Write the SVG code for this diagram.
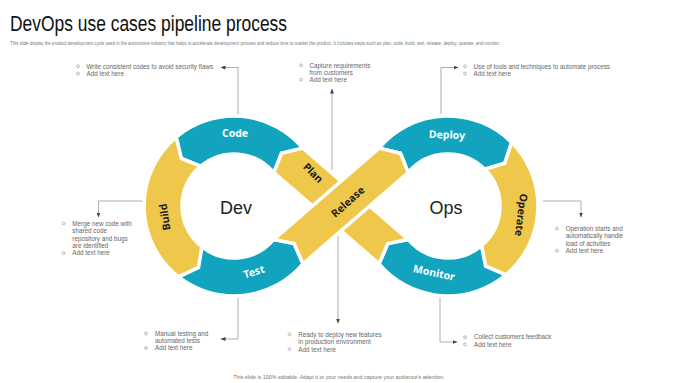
<svg xmlns="http://www.w3.org/2000/svg" width="680" height="383" viewBox="0 0 680 383">
<style>
.teal{fill:#12a3be;stroke:#fff;stroke-width:3.5;stroke-linejoin:miter}
.yel{fill:#efc84b;stroke:#fff;stroke-width:3.5;stroke-linejoin:miter}
.lbw{font-family:"Noto Sans",sans-serif;font-weight:700;font-size:10.5px;fill:#fff;text-anchor:middle}
.lbd{font-family:"Noto Sans",sans-serif;font-weight:700;font-size:10.5px;fill:#222;text-anchor:middle}
.big{font-family:"Liberation Sans",Arial,sans-serif;font-size:18px;fill:#222;text-anchor:middle}
.note{font-family:"Liberation Sans",Arial,sans-serif;font-size:6.3px;fill:#666}
.bul{fill:none;stroke:#888;stroke-width:0.6}
.ln{fill:none;stroke:#8a8a8a;stroke-width:0.7}
</style>
<defs>
<marker id="ah" markerUnits="userSpaceOnUse" markerWidth="5" markerHeight="4" refX="4.5" refY="2" orient="auto">
<path d="M0,0 L5,2 L0,4 Z" fill="#444"/>
</marker>
</defs>
<rect width="680" height="383" fill="#fff"/>
<text x="10" y="31" font-family="Liberation Sans, Arial, sans-serif" font-size="22" fill="#111" textLength="277" lengthAdjust="spacingAndGlyphs">DevOps use cases pipeline process</text>
<text x="10" y="45" font-family="Liberation Sans, Arial, sans-serif" font-size="5.4" fill="#777" textLength="490" lengthAdjust="spacingAndGlyphs">This slide display the product development  cycle used in the automotive industry that helps to accelerate development process and reduce time to market the product. It includes steps such as plan,  code, build,  test, release, deploy,  operate, and monitor.</text>

<g id="connectors">
<polyline class="ln" points="238,115 238,67.5 221,67.5" marker-end="url(#ah)"/>
<polyline class="ln" points="441,114 441,67.5 458,67.5" marker-end="url(#ah)"/>
<polyline class="ln" points="332,170 332,89" marker-end="url(#ah)"/>
<polyline class="ln" points="143,201 98.5,201 98.5,217" marker-end="url(#ah)"/>
<polyline class="ln" points="543,201 581,201 581,217" marker-end="url(#ah)"/>
<polyline class="ln" points="238,296 238,339 221,339" marker-end="url(#ah)"/>
<polyline class="ln" points="338,225 338,323" marker-end="url(#ah)"/>
<polyline class="ln" points="440,296 440,342 457,342" marker-end="url(#ah)"/>
</g>

<g id="code">
<path class="teal" d="M302.94,148.15 A90,90 0 0 0 176.15,137.06 L181.24,158.49 L200.57,166.17 A52,52 0 0 1 273.83,172.57 L281.51,153.24 Z"/>
<text class="lbw" x="235" y="137">Code</text>
</g>
<g id="build">
<path class="yel" d="M176.15,137.06 A90,90 0 0 0 178.59,276.92 L198.5,267.49 L201.98,246.98 A52,52 0 0 1 200.57,166.17 L181.24,158.49 Z"/>
<text class="lbd" transform="translate(165,217) rotate(-99)" y="3.5">Build</text>
</g>
<g id="test">
<path class="teal" d="M178.59,276.92 A90,90 0 0 0 302.94,263.85 L294.21,243.62 L273.83,239.43 A52,52 0 0 1 201.98,246.98 L198.5,267.49 Z"/>
<text class="lbw" transform="translate(254,272) rotate(-17)" y="3.5">Test</text>
</g>
<g id="deploy">
<path class="teal" d="M379.06,148.15 A90,90 0 0 1 511.64,142.36 L504.70,163.27 L484.77,169.23 A52,52 0 0 0 408.17,172.57 L400.49,153.24 Z"/>
<text class="lbw" transform="translate(447,135) rotate(2)" y="3.5">Deploy</text>
</g>
<g id="operate">
<path class="yel" d="M511.64,142.36 A90,90 0 0 1 505.85,274.94 L485.62,266.21 L481.43,245.83 A52,52 0 0 0 484.77,169.23 L504.70,163.27 Z"/>
<text class="lbd" transform="translate(521,215) rotate(97)" y="3.5">Operate</text>
</g>
<g id="monitor">
<path class="teal" d="M505.85,274.94 A90,90 0 0 1 379.06,263.85 L387.79,243.62 L408.17,239.43 A52,52 0 0 0 481.43,245.83 L485.62,266.21 Z"/>
<text class="lbw" transform="translate(434,273) rotate(12)" y="3.5">Monitor</text>
</g>
<g id="plan">
<path class="yel" d="M302.94,148.15 L408.17,239.43 L387.79,243.62 L379.06,263.85 L273.83,172.57 L281.51,153.24 Z"/>
<text class="lbd" transform="translate(313,173) rotate(45)" y="3.5">Plan</text>
</g>
<g id="release">
<path class="yel" d="M302.94,263.85 L408.17,172.57 L400.49,153.24 L379.06,148.15 L273.83,239.43 L294.21,243.62 Z"/>
<text class="lbd" transform="translate(348,202) rotate(-42)" y="3.5">Release</text>
</g>
<g id="dev"><text class="big" x="236" y="214">Dev</text></g>
<g id="ops"><text class="big" x="446" y="214">Ops</text></g>

<g id="note-code">
<circle class="bul" cx="78" cy="66.3" r="1.4"/><text class="note" x="86.5" y="68.5">Write consistent codes to avoid security flaws</text>
<circle class="bul" cx="78" cy="73.5" r="1.4"/><text class="note" x="86.5" y="75.7">Add text here</text>
</g>
<g id="note-plan">
<circle class="bul" cx="301" cy="65.3" r="1.4"/><text class="note" x="309.5" y="67.5">Capture requirements</text>
<text class="note" x="309.5" y="74.7">from customers</text>
<circle class="bul" cx="301" cy="79.7" r="1.4"/><text class="note" x="309.5" y="81.9">Add text here</text>
</g>
<g id="note-deploy">
<circle class="bul" cx="465" cy="66.3" r="1.4"/><text class="note" x="473.5" y="68.5">Use of tools and techniques to automate process</text>
<circle class="bul" cx="465" cy="73.5" r="1.4"/><text class="note" x="473.5" y="75.7">Add text here</text>
</g>
<g id="note-build">
<circle class="bul" cx="63.5" cy="223.5" r="1.4"/><text class="note" x="72.3" y="225.7">Merge new code with</text>
<text class="note" x="72.3" y="233.1">shared code</text>
<text class="note" x="72.3" y="240.5">repository and bugs</text>
<text class="note" x="72.3" y="247.9">are identified</text>
<circle class="bul" cx="63.5" cy="253.1" r="1.4"/><text class="note" x="72.3" y="255.3">Add text here</text>
</g>
<g id="note-operate">
<circle class="bul" cx="557" cy="228.5" r="1.4"/><text class="note" x="565.7" y="230.7">Operation starts and</text>
<text class="note" x="565.7" y="238.1">automatically  handle</text>
<text class="note" x="565.7" y="245.5">load of activities</text>
<circle class="bul" cx="557" cy="250.7" r="1.4"/><text class="note" x="565.7" y="252.9">Add text here</text>
</g>
<g id="note-test">
<circle class="bul" cx="146" cy="333.5" r="1.4"/><text class="note" x="155" y="335.7">Manual testing and</text>
<text class="note" x="155" y="343">automated tests</text>
<circle class="bul" cx="146" cy="348" r="1.4"/><text class="note" x="155" y="350.2">Add text here</text>
</g>
<g id="note-release">
<circle class="bul" cx="289.5" cy="334.5" r="1.4"/><text class="note" x="298.3" y="336.7">Ready to deploy new features</text>
<text class="note" x="298.3" y="344">in production environment</text>
<circle class="bul" cx="289.5" cy="349.3" r="1.4"/><text class="note" x="298.3" y="351.5">Add text here</text>
</g>
<g id="note-monitor">
<circle class="bul" cx="465" cy="337.2" r="1.4"/><text class="note" x="474" y="339.4">Collect customers feedback</text>
<circle class="bul" cx="465" cy="344.4" r="1.4"/><text class="note" x="474" y="346.6">Add text here</text>
</g>
<text x="339" y="378.5" font-family="Liberation Sans, Arial, sans-serif" font-size="5.4" fill="#777" text-anchor="middle">This slide is 100% editable. Adapt it to your needs and capture your audience's attention.</text>
</svg>
